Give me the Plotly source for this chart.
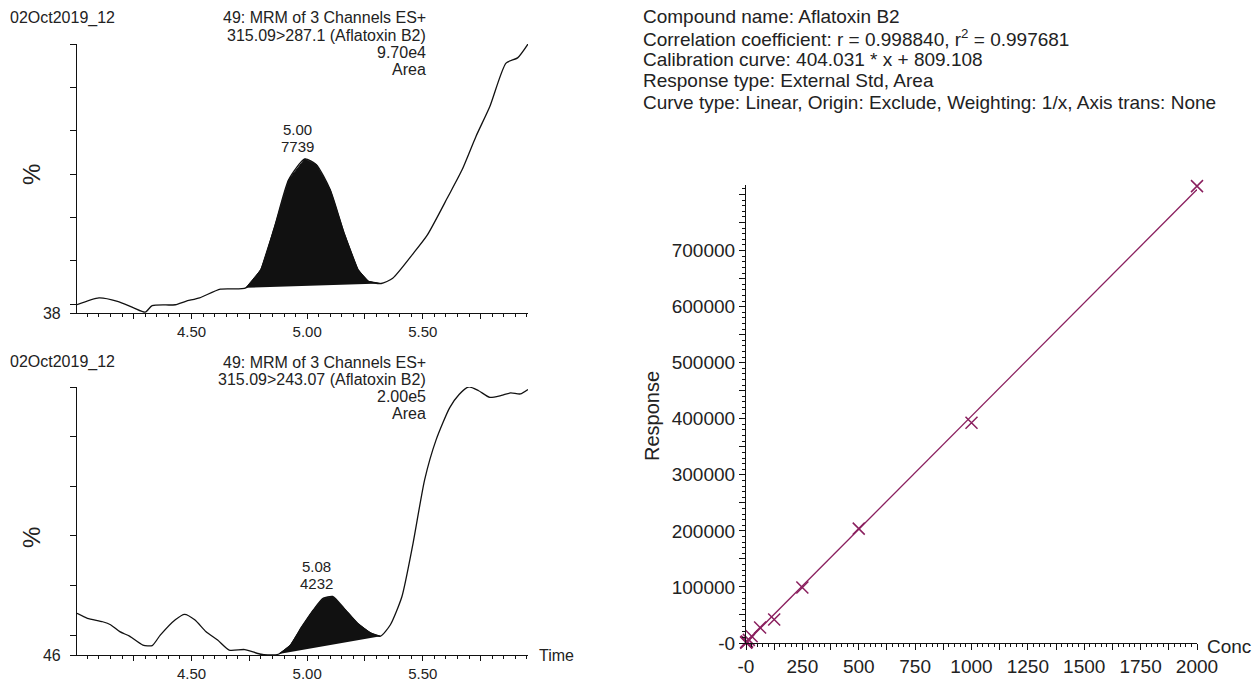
import plotly.graph_objects as go

# ---------------- data ----------------
# Top chromatogram: 315.09>287.1
top_time = [4.005, 4.10, 4.18, 4.25, 4.30, 4.33, 4.43, 4.475, 4.535, 4.625, 4.735,
            4.80, 4.86, 4.92, 4.99, 5.04, 5.10, 5.16, 5.22, 5.265, 5.32,
            5.37, 5.46, 5.52, 5.61, 5.67, 5.73, 5.79, 5.86, 5.91, 5.955]
top_pct = [39.9, 41.5, 40.7, 39.2, 38.2, 39.7, 39.9, 40.7, 41.5, 43.5, 43.8,
           48.0, 58.0, 68.7, 73.5, 72.2, 66.4, 56.4, 48.0, 45.3, 44.8,
           46.0, 51.8, 56.0, 64.9, 71.0, 78.7, 85.6, 95.6, 96.8, 100.0]
top_peak_start, top_peak_end = 4.735, 5.32
top_peak_rt, top_peak_area = "5.00", "7739"

# Bottom chromatogram: 315.09>243.07
bot_time = [4.005, 4.05, 4.116, 4.15, 4.19, 4.232, 4.29, 4.33, 4.365, 4.43, 4.47,
            4.514, 4.563, 4.613, 4.663, 4.73, 4.795, 4.83, 4.878, 4.928, 4.977,
            5.027, 5.069, 5.11, 5.16, 5.218, 5.276, 5.317, 5.36, 5.41, 5.458,
            5.508, 5.558, 5.616, 5.657, 5.698, 5.74, 5.79, 5.84, 5.88, 5.922, 5.955]
bot_pct = [54.4, 53.4, 52.7, 52.1, 50.7, 49.8, 48.0, 47.9, 50.0, 53.1, 54.2,
           53.1, 50.7, 49.0, 47.0, 47.1, 46.2, 46.0, 46.2, 48.0, 51.7,
           55.1, 57.4, 57.8, 55.4, 52.4, 50.4, 49.8, 52.1, 57.8, 68.5,
           81.3, 89.4, 95.8, 98.5, 100.0, 99.3, 97.9, 98.3, 98.8, 98.6, 99.5]
bot_peak_start, bot_peak_end = 4.878, 5.317
bot_peak_rt, bot_peak_area = "5.08", "4232"

top_header = ["49: MRM of 3 Channels ES+", "315.09>287.1 (Aflatoxin B2)", "9.70e4", "Area"]
bot_header = ["49: MRM of 3 Channels ES+", "315.09>243.07 (Aflatoxin B2)", "2.00e5", "Area"]
sample_name = "02Oct2019_12"

# Calibration
conc = [0.5, 1, 2.5, 5, 12.5, 25, 62.5, 125, 250, 500, 1000, 2000]
response = [1200, 700, 1900, 2700, 5600, 12000, 27500, 42000, 99000, 204000, 393000, 815000]
SLOPE, INTERCEPT = 404.031, 809.108
fit_conc = [0, 2000]

x_ticks_lbl = [0, 250, 500, 750, 1000, 1250, 1500, 1750, 2000]
y_ticks_lbl = [0, 100000, 200000, 300000, 400000, 500000, 600000, 700000]

info_lines = [
    "Compound name: Aflatoxin B2",
    "Correlation coefficient: r = 0.998840, r<sup>2</sup> = 0.997681",
    "Calibration curve: 404.031 * x + 809.108",
    "Response type: External Std, Area",
    "Curve type: Linear, Origin: Exclude, Weighting: 1/x, Axis trans: None",
]

# ---------------- layout helpers ----------------
W, H = 1252, 681
FONT = "Liberation Sans, Arial, sans-serif"
TXT = "#222222"
PURPLE = "#8a1f5e"


def px(x):
    return x / W


def py(y):
    return 1 - y / H


fig = go.Figure()


def peak_points(times, pcts, p0, p1):
    xs = [t for t in times if p0 <= t <= p1]
    ys = [p for t, p in zip(times, pcts) if p0 <= t <= p1]
    return xs, ys


def chrom(times, pcts, p0, p1, xa, ya):
    fig.add_trace(go.Scatter(x=times, y=pcts, mode="lines",
                             line=dict(color="#111111", width=1.3, shape="spline", smoothing=0.6),
                             xaxis=xa, yaxis=ya, showlegend=False, hoverinfo="skip"))
    xs, ys = peak_points(times, pcts, p0, p1)
    fig.add_trace(go.Scatter(x=xs, y=ys, mode="lines", fill="toself",
                             fillcolor="#111111", line=dict(color="#111111", width=1),
                             xaxis=xa, yaxis=ya, showlegend=False, hoverinfo="skip"))


chrom(top_time, top_pct, top_peak_start, top_peak_end, "x", "y")
chrom(bot_time, bot_pct, bot_peak_start, bot_peak_end, "x2", "y2")

# calibration
fig.add_trace(go.Scatter(x=fit_conc, y=[SLOPE * c + INTERCEPT for c in fit_conc],
                         mode="lines", line=dict(color=PURPLE, width=1.3),
                         xaxis="x3", yaxis="y3", showlegend=False, hoverinfo="skip"))
fig.add_trace(go.Scatter(x=conc, y=response, mode="markers",
                         marker=dict(symbol="x-thin", size=12, line=dict(color=PURPLE, width=1.5)),
                         xaxis="x3", yaxis="y3", showlegend=False, cliponaxis=False))

axis_common = dict(showgrid=False, zeroline=False, showline=True, linecolor="#111111",
                   linewidth=1.2, ticks="outside", tickcolor="#111111", mirror=False,
                   automargin=False,
                   tickfont=dict(family=FONT, size=15, color=TXT))

time_major = [4.25, 4.5, 4.75, 5.0, 5.25, 5.5, 5.75]
time_text = ["", "4.50", "", "5.00", "", "5.50", ""]


def time_axis(anchor):
    return dict(axis_common, range=[4.005, 5.955], domain=[px(77), px(528)],
                tickvals=time_major, ticktext=time_text, ticklen=5, tickwidth=1.2,
                minor=dict(dtick=0.05, tick0=4.0, ticklen=3, ticks="outside",
                           tickcolor="#111111", tickwidth=1),
                anchor=anchor)


pct_top_vals = [38, 40, 50, 60, 70, 80, 90, 100]
pct_bot_vals = [46, 50, 60, 70, 80, 90, 100]
xt3 = list(range(0, 2001, 125))
yt3 = list(range(0, 817000, 50000))

fig.update_layout(
    width=W, height=H, autosize=False, margin=dict(l=0, r=0, t=0, b=0),
    paper_bgcolor="white", plot_bgcolor="white",
    font=dict(family=FONT, color=TXT),
    xaxis=time_axis("y"),
    yaxis=dict(axis_common, range=[38, 100], domain=[py(313), py(44)], anchor="x",
               tickvals=pct_top_vals, ticktext=["38"] + [""] * 7, ticklen=6, tickwidth=1.2,
               ticklabelstandoff=6, tickfont=dict(family=FONT, size=16, color=TXT)),
    xaxis2=time_axis("y2"),
    yaxis2=dict(axis_common, range=[46, 100], domain=[py(655), py(387)], anchor="x2",
                tickvals=pct_bot_vals, ticktext=["46"] + [""] * 6, ticklen=6, tickwidth=1.2,
                ticklabelstandoff=6, tickfont=dict(family=FONT, size=16, color=TXT)),
    xaxis3=dict(axis_common, range=[0, 2000], domain=[px(746), px(1197)], anchor="y3",
                tickvals=xt3,
                ticktext=["-0" if v == 0 else (str(v) if v in x_ticks_lbl else "") for v in xt3],
                ticklen=6, tickwidth=1.2,
                minor=dict(dtick=25, tick0=0, ticklen=3, ticks="outside",
                           tickcolor="#111111", tickwidth=1),
                tickfont=dict(family=FONT, size=19, color=TXT)),
    yaxis3=dict(axis_common, range=[0, 817000], domain=[py(643), py(185)], anchor="x3",
                tickvals=yt3,
                ticktext=["-0" if v == 0 else (str(v) if v in y_ticks_lbl else "") for v in yt3],
                ticklen=6, tickwidth=1.2,
                minor=dict(dtick=10000, tick0=0, ticklen=3, ticks="outside",
                           tickcolor="#111111", tickwidth=1),
                tickfont=dict(family=FONT, size=19, color=TXT)),
)

ann = []


def A(text, x, y, size=15, xanchor="left", yanchor="middle", align="left", textangle=0,
      xref="paper", yref="paper", yshift=0):
    ann.append(dict(text=text, x=x, y=y, xref=xref, yref=yref, showarrow=False,
                    xanchor=xanchor, yanchor=yanchor, align=align, textangle=textangle,
                    font=dict(family=FONT, size=size, color=TXT), yshift=yshift))


# Left headers
for base, header in [(18, top_header), (362, bot_header)]:
    A(sample_name, px(8), py(base), size=16)
    for i, line in enumerate(header):
        A(line, px(428), py(base + 17.3 * i), size=16, xanchor="right", align="right")

A("%", px(31), py(175), size=24, textangle=-90, xanchor="center")
A("%", px(31), py(538), size=24, textangle=-90, xanchor="center")

_, top_peak_y = peak_points(top_time, top_pct, top_peak_start, top_peak_end)
_, bot_peak_y = peak_points(bot_time, bot_pct, bot_peak_start, bot_peak_end)

A(top_peak_area, 4.96, max(top_peak_y), xref="x", yref="y", size=15,
  xanchor="center", yanchor="bottom", yshift=2)
A(top_peak_rt, 4.96, max(top_peak_y), xref="x", yref="y", size=15,
  xanchor="center", yanchor="bottom", yshift=19)
A(bot_peak_area, 5.04, max(bot_peak_y), xref="x2", yref="y2", size=15,
  xanchor="center", yanchor="bottom", yshift=2)
A(bot_peak_rt, 5.04, max(bot_peak_y), xref="x2", yref="y2", size=15,
  xanchor="center", yanchor="bottom", yshift=19)
A("Time", px(537), py(655), size=16)

# Right panel text
for i, line in enumerate(info_lines):
    A(line, px(641), py(17 + i * 21.3), size=19)
A("Response", px(652), py(416), size=20, textangle=-90, xanchor="center")
A("Conc", px(1205), py(646), size=19)

fig.update_layout(annotations=ann)
fig.write_html("out.html", config={"displayModeBar": False},
               post_script="document.body.style.margin='0px';")
